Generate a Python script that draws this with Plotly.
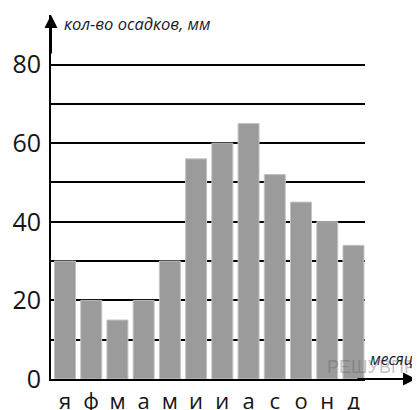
import plotly.graph_objects as go

months = ["я", "ф", "м", "а", "м", "и", "и", "а", "с", "о", "н", "д"]
precip = [30, 20, 15, 20, 30, 56, 60, 65, 52, 45, 40, 34]
major_ticks = [0, 20, 40, 60, 80]
minor_ticks = [10, 30, 50, 70]
y_title = "кол-во осадков, мм"
x_title = "месяц"
watermark = "РЕШУВПР.РФ"

positions = list(range(len(months)))

fig = go.Figure()
fig.add_trace(go.Bar(
    x=positions, y=precip, width=0.8,
    marker=dict(color="rgb(155,155,155)", line=dict(color="rgb(195,195,195)", width=1)),
    hoverinfo="skip",
))

# page body has an 8px margin; figure coordinates are offset by OFF
OFF = 8
W, H = 412, 402
L, R, T, B = 43, 55, 7, 31
plot_w = W - L - R
plot_h = H - T - B

fig.update_layout(
    width=W, height=H,
    margin=dict(l=L, r=R, t=T, b=B, pad=0, autoexpand=False),
    plot_bgcolor="white", paper_bgcolor="white",
    showlegend=False,
    font=dict(family="Open Sans", color="#1a1a1a"),
    xaxis=dict(
        range=[-0.534, 11.44],
        tickmode="array", tickvals=positions, ticktext=months,
        tickfont=dict(size=22, color="#151515"),
        ticklabelstandoff=2,
        showgrid=False, zeroline=False,
        showline=True, linecolor="black", linewidth=2,
        ticks="", fixedrange=True, automargin=False,
    ),
    yaxis=dict(
        range=[0, 92.6],
        tickmode="array", tickvals=major_ticks,
        ticktext=[str(v) for v in major_ticks],
        tickfont=dict(size=25, color="#151515"),
        ticklabelstandoff=3,
        showgrid=True, gridcolor="black", gridwidth=1.6,
        minor=dict(tickmode="array", tickvals=minor_ticks, showgrid=True,
                   gridcolor="black", gridwidth=1.6, ticks=""),
        zeroline=False,
        showline=True, linecolor="black", linewidth=2,
        ticks="", fixedrange=True, automargin=False,
    ),
)

def px_x(p):
    return (p - OFF - L) / plot_w

def px_y(p):
    return (H - B - (p - OFF)) / plot_h

# axis arrows
fig.add_annotation(x=0, y=1, xref="paper", yref="paper", ax=0, ay=40,
                   showarrow=True, arrowhead=2, arrowsize=1.3, arrowwidth=2,
                   arrowcolor="black", text="")
fig.add_annotation(x=px_x(416), y=0, xref="paper", yref="paper", ax=-60, ay=0,
                   showarrow=True, arrowhead=2, arrowsize=1.3, arrowwidth=2,
                   arrowcolor="black", text="")

fig.add_annotation(x=px_x(62), y=px_y(23), xref="paper", yref="paper",
                   xanchor="left", yanchor="middle", showarrow=False,
                   text="<i>" + y_title + "</i>",
                   font=dict(size=16.5, color="#1a1a2a"))
fig.add_annotation(x=px_x(325), y=px_y(367), xref="paper", yref="paper",
                   xanchor="left", yanchor="middle", showarrow=False,
                   text=watermark,
                   font=dict(size=18, color="rgba(100,100,100,0.4)", family="Liberation Sans"))
fig.add_annotation(x=px_x(368), y=px_y(359), xref="paper", yref="paper",
                   xanchor="left", yanchor="middle", showarrow=False,
                   text="<i>" + x_title + "</i>",
                   font=dict(size=15.5, color="#1a1a2a"))

fig.write_html("out.html")
